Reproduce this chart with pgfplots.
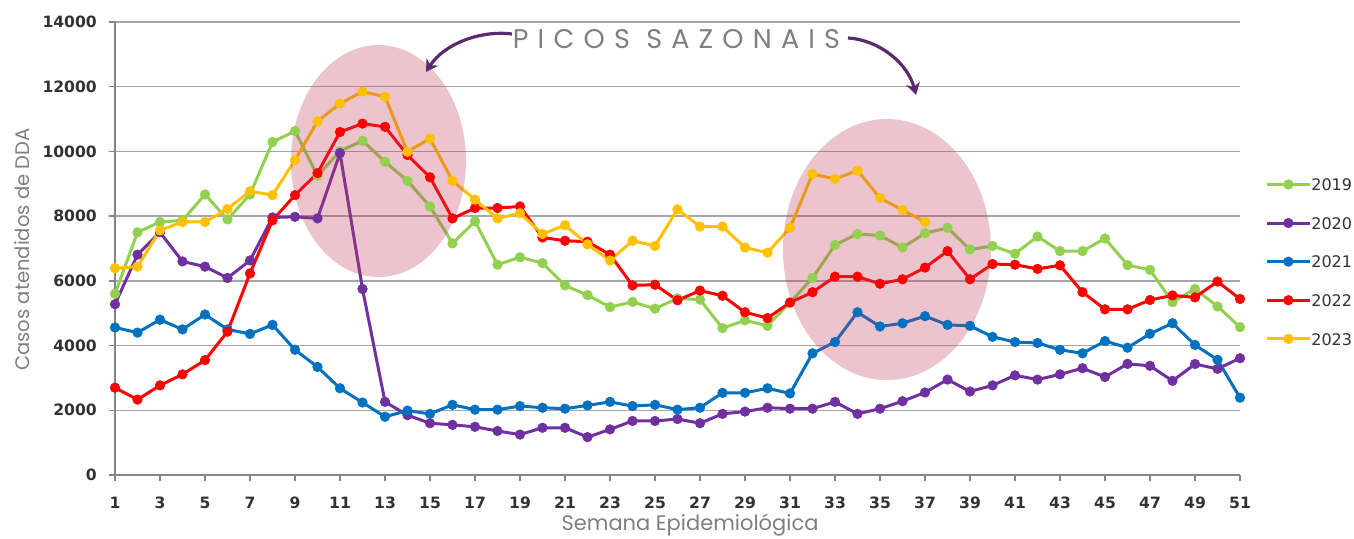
\documentclass[border=0pt]{standalone}
\usepackage{fontspec}
\setmainfont{DejaVu Sans}
\newfontfamily\poppins{Poppins}
\newfontfamily\spaced[LetterSpace=34]{Poppins}
\usepackage{pgfplots}
\usepackage{pgfplotstable}
\pgfplotsset{compat=1.18}
\usetikzlibrary{arrows.meta}
\definecolor{c19}{RGB}{146,208,80}
\definecolor{c20}{RGB}{112,48,160}
\definecolor{c21}{RGB}{0,112,192}
\definecolor{c22}{RGB}{255,0,0}
\definecolor{c23}{RGB}{255,192,0}
\definecolor{gridc}{RGB}{166,166,166}
\definecolor{axisc}{RGB}{134,134,134}
\definecolor{labc}{RGB}{127,127,127}
\definecolor{tickc}{RGB}{50,50,50}
\definecolor{pinkc}{RGB}{190,60,90}
\definecolor{arrowc}{RGB}{91,42,110}

\pgfplotstableread{
w y19 y20 y21 y22
1 5600 5280 4560 2700
2 7500 6810 4400 2330
3 7820 7500 4800 2770
4 7870 6600 4500 3110
5 8670 6440 4960 3550
6 7900 6090 4500 4430
7 8670 6630 4360 6230
8 10290 7960 4640 7870
9 10630 7980 3870 8650
10 9250 7930 3340 9330
11 10010 9950 2680 10600
12 10330 5750 2240 10860
13 9680 2260 1800 10760
14 9090 1850 1990 9890
15 8300 1600 1890 9200
16 7160 1550 2170 7930
17 7840 1490 2020 8250
18 6500 1360 2020 8250
19 6730 1250 2130 8300
20 6550 1460 2080 7340
21 5860 1460 2050 7240
22 5560 1170 2150 7210
23 5190 1410 2260 6810
24 5350 1670 2130 5860
25 5140 1670 2170 5880
26 5460 1730 2020 5400
27 5420 1600 2080 5700
28 4540 1890 2540 5540
29 4780 1960 2540 5030
30 4610 2080 2680 4850
31 5330 2050 2520 5330
32 6090 2050 3760 5650
33 7110 2260 4110 6130
34 7450 1890 5030 6130
35 7400 2050 4590 5910
36 7030 2280 4690 6050
37 7470 2550 4910 6410
38 7640 2950 4640 6920
39 6970 2580 4610 6050
40 7080 2770 4270 6520
41 6840 3080 4110 6500
42 7370 2950 4080 6370
43 6920 3110 3870 6480
44 6920 3300 3760 5650
45 7310 3030 4140 5120
46 6490 3435 3935 5120
47 6340 3375 4365 5410
48 5340 2910 4690 5550
49 5750 3430 4020 5490
50 5210 3280 3560 5980
51 4570 3610 2390 5440
}\dataA

\pgfplotstableread{
w y23
1 6390
2 6440
3 7560
4 7820
5 7820
6 8220
7 8770
8 8650
9 9730
10 10930
11 11480
12 11850
13 11690
14 9990
15 10400
16 9090
17 8510
18 7930
19 8090
20 7450
21 7720
22 7130
23 6630
24 7240
25 7080
26 8210
27 7680
28 7680
29 7030
30 6870
31 7640
32 9300
33 9150
34 9410
35 8560
36 8190
37 7820
}\dataB

\begin{document}
\begin{tikzpicture}
\path[use as bounding box] (0,0) rectangle (677pt,269pt);
\begin{axis}[
  at={(57.5pt,31.5pt)}, anchor=south west,
  scale only axis, width=562.5pt, height=226.5pt,
  xmin=1, xmax=51, ymin=0, ymax=14000,
  xtick={1,3,...,51}, ytick={0,2000,...,14000},
  scaled y ticks=false,
  ymajorgrids, grid style={color=gridc, line width=0.75pt},
  axis x line*=bottom, axis y line*=left,
  axis line style={color=axisc, line width=0.75pt},
  tick style={color=axisc, line width=0.75pt},
  tick align=outside, major tick length=3pt,
  /pgf/number format/assume math mode=true,
  /pgf/number format/1000 sep={},
  tick label style={font=\bfseries\fontsize{7.8}{9}\selectfont, color=tickc, inner sep=0pt},
  yticklabel style={anchor=east, xshift=-5.9pt},
  xticklabel style={anchor=north, yshift=-7.8pt},
  legend style={at={(rel axis cs:1.0222,0.656)}, anchor=north west, draw=none, fill=none,
    inner sep=0pt, row sep=13.1pt,
    nodes={inner sep=0pt, text height=6.2pt, text depth=0pt, font=\fontsize{8}{10}\selectfont, text=tickc}},
  legend cell align=left,
  legend image code/.code={\draw[#1, mark repeat=2, mark phase=2] plot coordinates {(0pt,0pt) (10.75pt,0pt) (21.5pt,0pt)};},
  every axis plot/.append style={line width=1.5pt},
]
\addplot[color=c19, mark=*, mark size=2.4pt, mark options={solid, fill=c19, draw=c19, line width=0.3pt}] table[x=w, y=y19] {\dataA};
\addlegendentry{2019}
\addplot[color=c20, mark=*, mark size=2.4pt, mark options={solid, fill=c20, draw=c20, line width=0.3pt}] table[x=w, y=y20] {\dataA};
\addlegendentry{2020}
\addplot[color=c21, mark=*, mark size=2.4pt, mark options={solid, fill=c21, draw=c21, line width=0.3pt}] table[x=w, y=y21] {\dataA};
\addlegendentry{2021}
\addplot[color=c22, mark=*, mark size=2.4pt, mark options={solid, fill=c22, draw=c22, line width=0.3pt}] table[x=w, y=y22] {\dataA};
\addlegendentry{2022}
\addplot[color=c23, mark=*, mark size=2.4pt, mark options={solid, fill=c23, draw=c23, line width=0.3pt}] table[x=w, y=y23] {\dataB};
\addlegendentry{2023}
\fill[pinkc, fill opacity=0.3] (axis cs:12.71,9703) ellipse [x radius=43.75pt, y radius=58pt];
\fill[pinkc, fill opacity=0.3] (axis cs:35.31,6968) ellipse [x radius=52pt, y radius=65.25pt];
\end{axis}
\node[rotate=90, font=\poppins\fontsize{9.8}{12}\selectfont, text=labc] at (11pt,144.25pt) {Casos atendidos de DDA};
\node[font=\poppins\fontsize{10.5}{12}\selectfont, text=labc] at (345pt,6.5pt) {Semana Epidemiológica};
\node[font=\spaced\fontsize{13.5}{15}\selectfont, text=labc] at (338.25pt,249.5pt) {PICOS SAZONAIS};
\draw[arrowc, line width=1.6pt, -{Stealth[length=6pt,width=7pt]}] (256pt,252pt) .. controls (240pt,254pt) and (222pt,247pt) .. (213pt,233pt);
\draw[arrowc, line width=1.6pt, -{Stealth[length=6pt,width=7pt]}] (424pt,250pt) .. controls (440pt,249pt) and (454pt,237pt) .. (458pt,221.5pt);
\end{tikzpicture}
\end{document}
